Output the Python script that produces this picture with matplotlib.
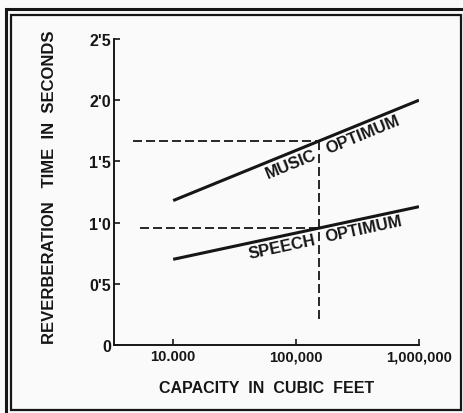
import matplotlib
matplotlib.use("Agg")
import matplotlib.pyplot as plt
from matplotlib.patches import Rectangle
import numpy as np

# Optimum reverberation time against room volume
capacity = [10_000, 1_000_000]
music_time = [1.18, 2.00]
speech_time = [0.70, 1.13]

# Reading guide for a hall of about 155,000 cubic feet
guide_capacity = 155_000
guide_bottom = 0.21
music_guide_start = 4_700
speech_guide_start = 5_400

y_ticks = [0, 0.5, 1.0, 1.5, 2.0, 2.5]
y_tick_labels = ["0", "0'5", "1'0", "1'5", "2'0", "2'5"]
x_ticks = [10_000, 100_000, 1_000_000]
x_tick_labels = ["10.000", "100,000", "1,000,000"]

INK = "#161616"
PAPER = "#fafafa"
plt.rcParams["font.family"] = ["Liberation Sans", "DejaVu Sans"]

W, H = 464, 414
fig = plt.figure(figsize=(W / 100, H / 100), dpi=100, facecolor=PAPER)
ax = fig.add_axes([114 / W, 68 / H, (419 - 114) / W, (346 - 40) / H])
ax.set_facecolor(PAPER)

ax.set_xscale("log")
ax.set_xlim(3_300, 1_000_000)
ax.set_ylim(0, 2.5)

for s in ("top", "right"):
    ax.spines[s].set_visible(False)
for s in ("left", "bottom"):
    ax.spines[s].set_linewidth(1.4)
    ax.spines[s].set_color(INK)

ax.set_xticks(x_ticks)
ax.set_xticklabels(x_tick_labels)
ax.xaxis.set_minor_locator(matplotlib.ticker.NullLocator())
ax.set_yticks(y_ticks)
ax.set_yticklabels(y_tick_labels)
ax.tick_params(axis="both", direction="in", length=4, width=1.2, color=INK,
               labelcolor=INK, pad=2)
ax.tick_params(axis="x", labelsize=10.7, pad=3)
ax.tick_params(axis="y", labelsize=11.5)
for lab in ax.get_xticklabels() + ax.get_yticklabels():
    lab.set_fontweight("bold")

# optimum lines
ax.plot(capacity, music_time, color=INK, lw=2.2, solid_capstyle="butt")
ax.plot(capacity, speech_time, color=INK, lw=2.2, solid_capstyle="butt")


def level(times, c):
    return np.interp(np.log10(c), np.log10(capacity), times)


music_level = level(music_time, guide_capacity)
speech_level = level(speech_time, guide_capacity)

dash = dict(color=INK, lw=1.3, dashes=(5, 2.2))
ax.plot([music_guide_start, guide_capacity], [music_level, music_level], **dash)
ax.plot([speech_guide_start, guide_capacity], [speech_level, speech_level], **dash)
ax.plot([guide_capacity, guide_capacity], [music_level, guide_bottom], **dash)


def line_angle(times):
    p = ax.transData.transform([(capacity[0], times[0]), (capacity[1], times[1])])
    return np.degrees(np.arctan2(p[1, 1] - p[0, 1], p[1, 0] - p[0, 0]))


def label_on(times, c, text, ha):
    ang = line_angle(times)
    x, y = ax.transData.transform((c, level(times, c)))
    # shift just below the line, perpendicular to it
    off = 2.5
    nx, ny = np.sin(np.radians(ang)), -np.cos(np.radians(ang))
    xa, ya = ax.transData.inverted().transform((x + off * nx, y + off * ny))
    ax.text(xa, ya, text, rotation=ang, rotation_mode="anchor", ha=ha, va="top",
            fontsize=12, fontweight="bold", color=INK)


label_on(music_time, guide_capacity / 1.16, "MUSIC", "right")
label_on(music_time, guide_capacity * 1.07, "OPTIMUM", "left")
label_on(speech_time, guide_capacity / 1.12, "SPEECH", "right")
label_on(speech_time, guide_capacity * 1.08, "OPTIMUM", "left")

ax.set_xlabel("CAPACITY  IN  CUBIC  FEET", fontsize=11.5, fontweight="bold", color=INK)
ax.xaxis.set_label_coords(0.50, -0.114)
ax.set_ylabel("REVERBERATION   TIME  IN  SECONDS", fontsize=12,
              fontweight="bold", color=INK)
ax.yaxis.set_label_coords(-0.187, 0.518)

# double frame
def frame(x0, y0, x1, y1, lw):
    fig.add_artist(Rectangle((x0 / W, 1 - y1 / H), (x1 - x0) / W, (y1 - y0) / H,
                             transform=fig.transFigure, fill=False,
                             edgecolor=INK, lw=lw))

frame(6, 10, 472, 422, 2.2)
frame(11.5, 16, 461, 411, 1.6)

fig.savefig("out.png", dpi=100, facecolor=PAPER)
